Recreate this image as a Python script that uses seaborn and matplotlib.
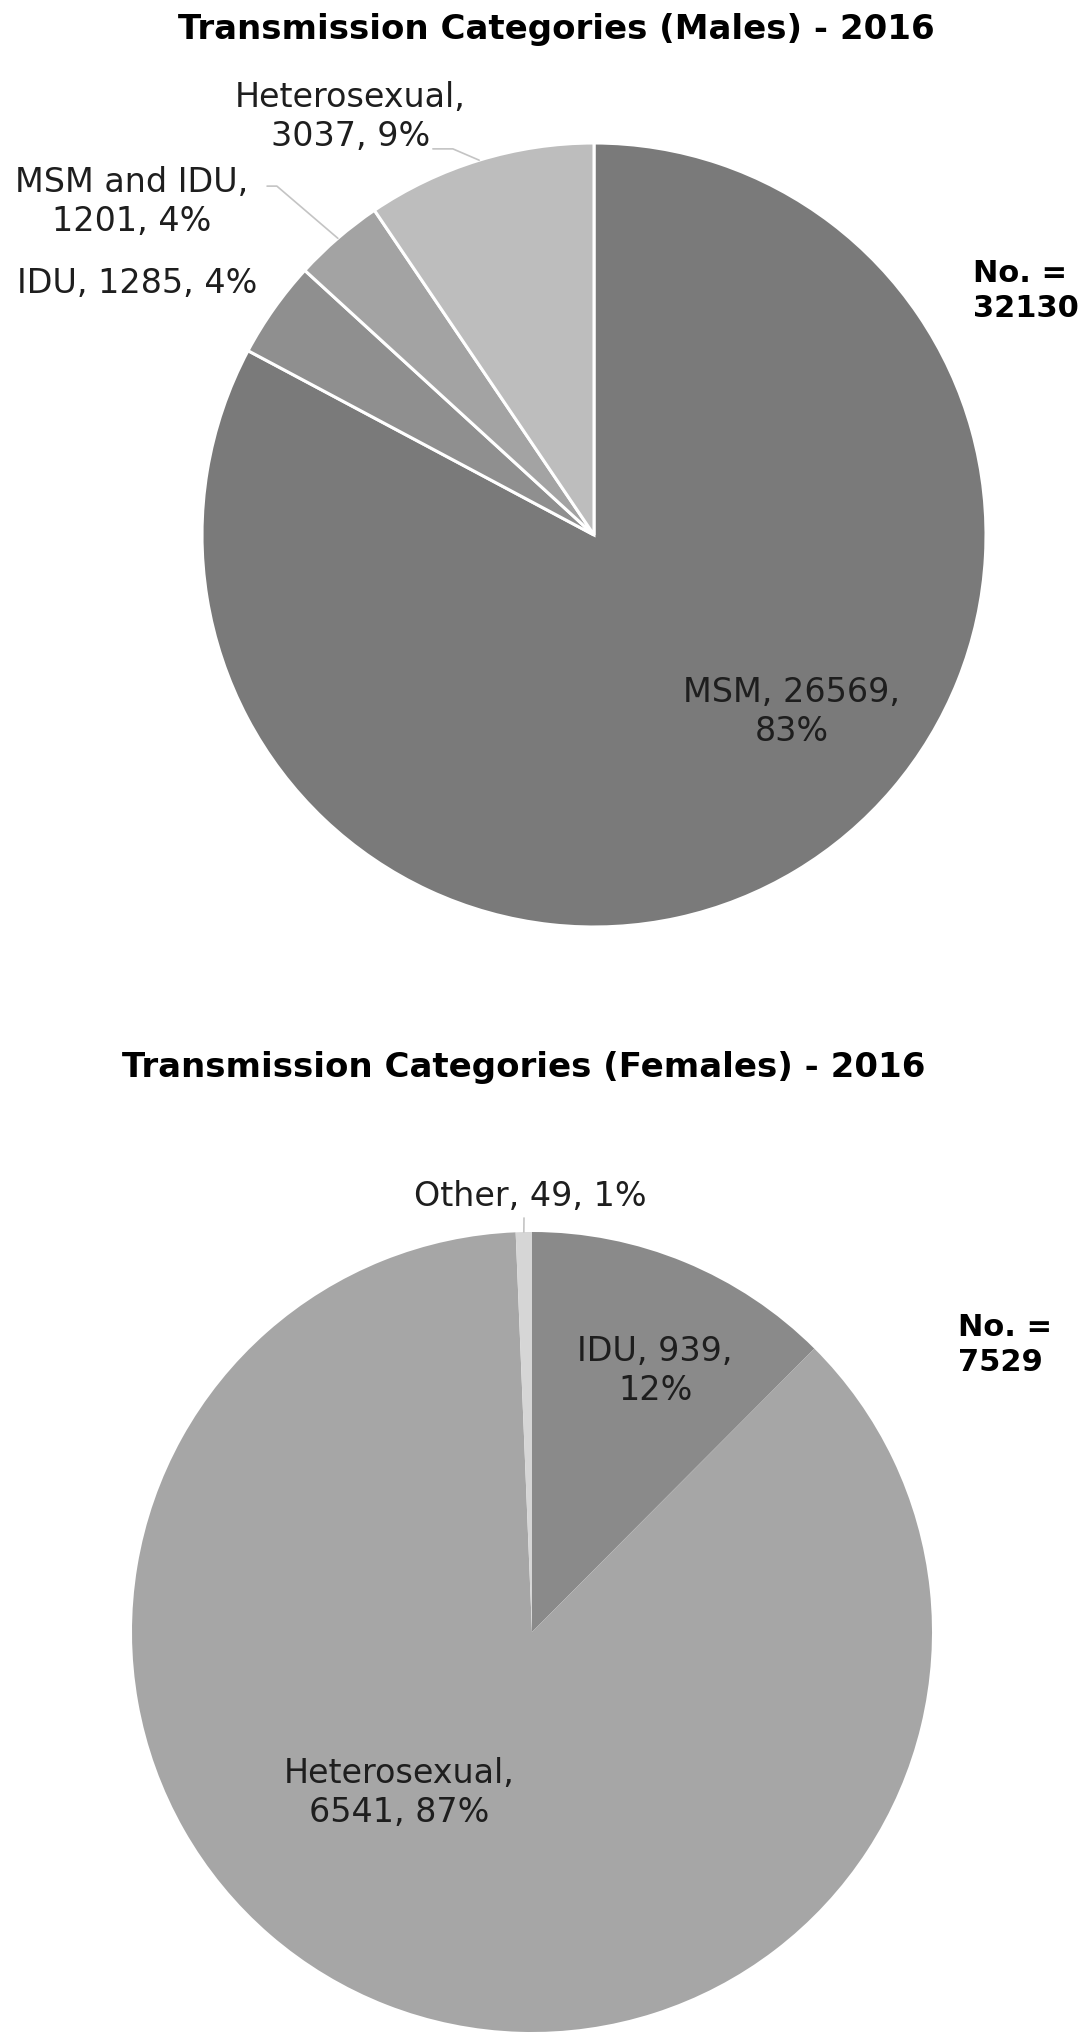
import matplotlib
matplotlib.use("Agg")
import matplotlib.pyplot as plt
import seaborn as sns
import numpy as np

# data
male_cats = ["MSM", "IDU", "MSM and IDU", "Heterosexual"]
male_vals = [26569, 1285, 1201, 3037]
male_total = 32130
male_colors = ["#7a7a7a", "#8f8f8f", "#a3a3a3", "#bdbdbd"]
male_breaks = ["value", None, "name", "name"]

female_cats = ["IDU", "Heterosexual", "Other"]
female_vals = [939, 6541, 49]
female_total = 7529
female_colors = ["#8a8a8a", "#a6a6a6", "#d6d6d6"]
female_breaks = ["value", "name", None]

sns.set_style("white")
plt.rcParams["font.family"] = ["DejaVu Sans"]

W, H = 1089, 2040
fig = plt.figure(figsize=(W / 100, H / 100), dpi=100)


def pie_axes(cx, cy, r):
    ax = fig.add_axes([(cx - r) / W, 1 - (cy + r) / H, 2 * r / W, 2 * r / H])
    return ax


def make_label(name, val, total, brk):
    pct = "%d%%" % round(val / total * 100)
    if brk == "name":
        return "%s,\n%d, %s" % (name, val, pct)
    if brk == "value":
        return "%s, %d,\n%s" % (name, val, pct)
    return "%s, %d, %s" % (name, val, pct)


def draw_pie(ax, vals, cats, colors, total, breaks, text_pos, leaders, edge):
    wedges, _ = ax.pie(vals, colors=colors, startangle=90, counterclock=False,
                       radius=1, wedgeprops=dict(edgecolor=edge, linewidth=2.2 if edge != "none" else 0))
    ax.set_xlim(-1, 1)
    ax.set_ylim(-1, 1)
    ax.set_aspect("equal")
    ax.axis("off")
    for i, w in enumerate(wedges):
        txt = make_label(cats[i], vals[i], total, breaks[i])
        x, y = text_pos[i]
        ax.text(x, y, txt, ha="center", va="center", fontsize=24,
                color="#1e1e1e", linespacing=1.25)
        if leaders[i] is not None:
            mid = np.deg2rad((w.theta1 + w.theta2) / 2)
            ex, ey = np.cos(mid), np.sin(mid)
            pts = leaders[i] + [(ex, ey)]
            ax.plot([p[0] for p in pts], [p[1] for p in pts], color="#c4c4c4",
                    lw=1.2, clip_on=False)
    return wedges


# males
ax1 = pie_axes(594, 536, 392)
draw_pie(ax1, male_vals, male_cats, male_colors, male_total, male_breaks,
         [(0.505, -0.449), (-1.166, 0.645), (-1.179, 0.852), (-0.622, 1.069)],
         [None, None, [(-0.834, 0.890), (-0.809, 0.890)], [(-0.411, 0.985), (-0.360, 0.985)]],
         "white")
ax1.text(0.967, 0.625, "No. =\n%d" % male_total, ha="left", va="center",
         fontsize=22, fontweight="bold", color="black", linespacing=1.3)

# females
ax2 = pie_axes(532, 1633, 400)
draw_pie(ax2, female_vals, female_cats, female_colors, female_total, female_breaks,
         [(0.308, 0.655), (-0.333, -0.40), (-0.003, 1.09)],
         [None, None, [(-0.02, 1.035)]],
         "none")
ax2.text(1.065, 0.72, "No. =\n%d" % female_total, ha="left", va="center",
         fontsize=22, fontweight="bold", color="black", linespacing=1.3)

fig.text(556 / W, 1 - 30 / H, "Transmission Categories (Males) - 2016", ha="center",
         va="center", fontsize=24.5, fontweight="bold", color="black")
fig.text(524 / W, 1 - 1067 / H, "Transmission Categories (Females) - 2016", ha="center",
         va="center", fontsize=24.5, fontweight="bold", color="black")

fig.savefig("out.png", dpi=100, facecolor="white")
